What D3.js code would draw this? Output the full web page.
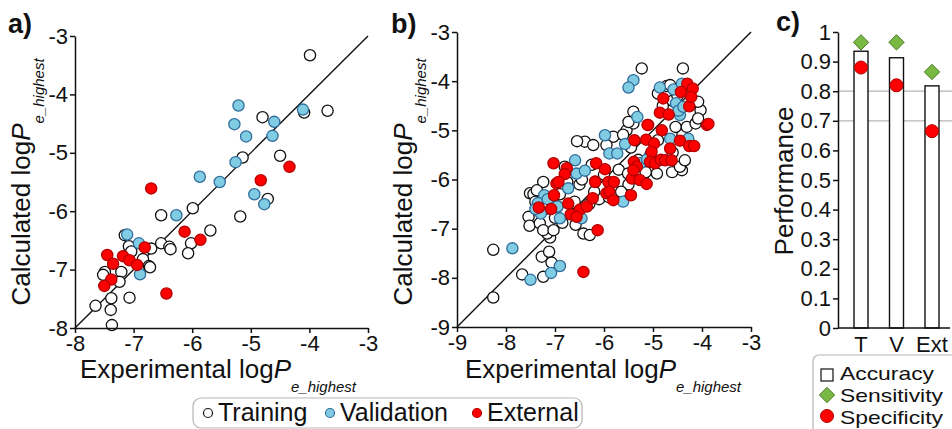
<!DOCTYPE html>
<html>
<head>
<meta charset="utf-8">
<script src="https://cdn.jsdelivr.net/npm/d3@7"></script>
<style>
  body { margin: 0; background: #fff; }
  svg { display: block; font-family: "Liberation Sans", Arial, sans-serif; }
</style>
</head>
<body>
<svg id="chart" width="952" height="429"></svg>
<script>
// ---- panel a data: [experimental, calculated]
const trainA = [
  [-3.99,-3.33],[-4.80,-4.39],[-4.09,-4.31],[-3.69,-4.28],[-5.14,-5.08],[-4.50,-5.05],[-4.71,-5.79],
  [-5.99,-5.95],[-5.18,-6.09],[-6.53,-6.07],[-5.69,-6.33],[-6.02,-6.55],[-6.07,-6.72],[-7.15,-6.41],
  [-7.08,-6.60],[-6.70,-6.64],[-6.53,-6.55],[-6.39,-6.61],[-6.37,-6.65],[-7.04,-6.69],[-6.84,-6.82],
  [-6.74,-6.94],[-6.72,-6.96],[-7.21,-7.04],[-7.49,-7.04],[-7.52,-7.09],[-7.24,-7.21],[-7.07,-7.48],
  [-7.38,-7.49],[-7.65,-7.62],[-7.39,-7.69],[-7.37,-7.95]
];
const validA = [
  [-5.21,-4.19],[-4.60,-4.47],[-5.28,-4.51],[-4.11,-4.26],[-5.08,-4.72],[-4.63,-4.71],[-5.26,-5.16],
  [-5.87,-5.41],[-5.53,-5.50],[-4.94,-5.71],[-4.77,-5.88],[-6.27,-6.07],[-7.11,-6.40],[-6.91,-6.55],
  [-6.89,-7.08]
];
const extA = [
  [-4.34,-5.24],[-4.83,-5.47],[-6.70,-5.61],[-6.13,-6.35],[-5.86,-6.49],[-6.81,-6.62],[-7.45,-6.75],
  [-7.18,-6.77],[-7.35,-6.90],[-7.07,-6.84],[-6.94,-6.92],[-7.38,-7.17],[-7.50,-7.28],[-6.44,-7.41]
];

// ---- panel b data
const trainB = [
  [-8.26,-7.43],[-8.26,-8.40],[-7.67,-7.93],[-7.24,-7.98],[-7.27,-7.57],[-7.12,-7.47],[-7.07,-7.69],
  [-7.10,-7.18],[-7.16,-7.10],[-7.54,-6.76],[-7.52,-6.94],[-7.31,-6.89],[-7.24,-7.03],[-7.03,-7.03],
  [-6.42,-7.10],[-6.29,-7.13],[-7.51,-6.28],[-7.44,-6.30],[-7.24,-6.05],[-7.37,-6.22],
  [-7.20,-6.60],[-7.00,-6.78],[-6.85,-6.88],[-6.62,-6.70],[-6.58,-6.92],[-7.40,-6.45],[-7.05,-6.45],
  [-6.90,-6.30],[-6.75,-6.05],[-6.30,-6.50],[-6.10,-6.40],[-6.00,-5.90],[-6.25,-5.70],[-6.80,-5.74],
  [-6.50,-6.10],[-6.45,-6.00],[-6.20,-6.25],[-5.90,-6.36],[-5.70,-5.80],[-5.50,-6.10],[-5.30,-5.60],
  [-5.20,-6.00],[-5.05,-5.50],[-5.51,-5.88],[-4.92,-5.88],[-4.41,-5.81],[-4.61,-5.85],[-4.45,-5.74],
  [-4.35,-5.61],[-4.60,-5.45],[-4.90,-5.20],[-4.40,-5.10],[-4.31,-4.93],[-4.54,-4.93],[-4.13,-4.86],
  [-5.54,-5.00],[-5.40,-4.86],[-5.81,-5.13],[-5.61,-5.09],[-6.39,-5.23],[-6.55,-5.22],[-6.22,-5.30],
  [-5.95,-5.30],[-5.40,-4.62],[-5.50,-4.83],[-4.80,-4.50],[-4.60,-4.40],[-4.50,-4.30],[-4.35,-4.20],
  [-4.90,-4.25],[-4.72,-4.10],[-4.65,-4.08],[-4.03,-4.59],[-4.08,-4.76],[-4.08,-4.42],
  [-5.23,-3.74],[-4.39,-3.74],[-5.45,-5.35],[-5.15,-5.85],[-5.65,-6.25],[-6.60,-6.45],[-6.95,-6.55]
];
const validB = [
  [-7.87,-7.40],[-7.50,-8.04],[-7.08,-7.90],[-6.90,-7.76],[-7.29,-6.69],[-7.22,-6.32],[-6.73,-6.18],
  [-6.46,-6.79],[-6.90,-6.79],[-5.61,-6.45],[-6.59,-5.61],[-6.56,-5.88],[-6.39,-5.82],[-5.98,-5.10],
  [-5.89,-5.47],[-5.73,-5.47],[-5.26,-5.67],[-4.65,-5.17],[-4.28,-5.17],[-5.40,-3.98],[-5.50,-4.13],
  [-4.86,-4.13],[-4.58,-4.17],[-4.41,-4.05],[-4.53,-4.45],[-4.45,-4.69],[-5.32,-4.73],[-5.57,-5.28],
  [-4.48,-4.60],[-4.38,-4.52],[-5.12,-5.59],[-7.35,-6.48],[-7.15,-6.40],[-6.95,-6.55],[-7.40,-6.60]
];
const extB = [
  [-6.42,-7.88],[-6.13,-7.03],[-7.33,-6.57],[-7.08,-6.60],[-7.02,-6.32],[-6.97,-6.08],[-6.73,-6.49],
  [-6.68,-6.71],[-6.49,-6.61],[-6.56,-6.76],[-6.35,-6.55],[-6.23,-6.38],[-6.18,-6.04],[-5.95,-6.28],
  [-7.03,-5.67],[-6.76,-5.77],[-6.80,-5.89],[-6.93,-6.05],[-6.16,-5.67],[-5.98,-5.79],[-6.18,-6.05],
  [-5.91,-6.05],[-5.80,-6.05],[-5.89,-6.25],[-5.81,-6.42],[-5.45,-6.32],[-5.38,-5.20],[-5.39,-5.64],
  [-5.43,-5.98],[-5.27,-6.01],[-5.13,-6.09],[-5.33,-5.74],[-5.14,-5.19],[-4.98,-5.27],[-5.03,-5.44],
  [-5.06,-5.64],[-4.96,-5.67],[-4.82,-5.00],[-4.65,-5.37],[-4.84,-5.60],[-4.75,-5.61],[-4.62,-5.61],
  [-4.45,-5.21],[-4.26,-5.32],[-4.16,-5.32],[-5.10,-4.89],[-3.90,-4.89],[-3.87,-4.87],[-4.30,-4.05],
  [-4.19,-4.15],[-4.43,-4.22],[-4.79,-4.35],[-4.26,-4.51],[-4.22,-4.32],[-4.86,-4.64],[-4.68,-4.68],
  [-5.11,-4.89],[-5.40,-5.81]
];

// ---- panel c data
const perfSets = ["T", "V", "Ext"];
const accuracy = [0.935, 0.913, 0.818];
const sensitivity = [0.965, 0.965, 0.865];
const specificity = [0.88, 0.82, 0.665];
const perfTicks = [0, 0.1, 0.2, 0.3, 0.4, 0.5, 0.6, 0.7, 0.8, 0.9, 1];
const perfGrid = [0.7, 0.8];

const seriesNames = ["Training", "Validation", "External"];
const styles = {
  Training:   { fill: "#ffffff", stroke: "#111" },
  Validation: { fill: "#80cde3", stroke: "#2f6c9c" },
  External:   { fill: "#ff0000", stroke: "#b40000" }
};

const svg = d3.select("#chart");

// axis title: plain text + italic P + italic subscript
function addTitle(g, main, sub) {
  const t = g.append("text").attr("font-size", 26).attr("text-anchor", "middle").attr("fill", "#111");
  t.append("tspan").text(main);
  t.append("tspan").attr("font-style", "italic").text("P");
  t.append("tspan").attr("font-size", 15).attr("font-style", "italic").attr("dy", 14).text(sub);
  return t;
}

function styleAxis(g) {
  g.selectAll(".domain").attr("stroke", "#111").attr("stroke-width", 1.5);
  g.selectAll(".tick line").attr("stroke", "#111").attr("stroke-width", 1.5);
  g.selectAll(".tick text").attr("font-size", 22).attr("fill", "#111")
    .attr("font-family", "Liberation Sans, Arial, sans-serif");
}

function scatterPanel(o) {
  const x = d3.scaleLinear().domain(o.domain).range(o.xRange);
  const y = d3.scaleLinear().domain(o.domain).range(o.yRange);
  const ticks = d3.range(o.domain[0], o.domain[1] + 1);

  // identity line
  svg.append("line")
    .attr("x1", x(o.domain[0])).attr("y1", y(o.domain[0]))
    .attr("x2", x(o.domain[1])).attr("y2", y(o.domain[1]))
    .attr("stroke", "#111").attr("stroke-width", 1.4);

  o.sets.forEach((set, i) => {
    const st = styles[seriesNames[i]];
    svg.append("g").selectAll("circle")
      .data(set)
      .enter()
      .append("circle")
      .attr("cx", d => x(d[0]))
      .attr("cy", d => y(d[1]))
      .attr("r", 5.6)
      .attr("fill", st.fill)
      .attr("stroke", st.stroke)
      .attr("stroke-width", 1.3);
  });

  const ax = svg.append("g")
    .attr("transform", `translate(0,${o.yRange[0]})`)
    .call(d3.axisBottom(x).tickValues(ticks).tickSize(5).tickSizeOuter(0).tickPadding(2).tickFormat(d => String(d)));
  styleAxis(ax);
  const ay = svg.append("g")
    .attr("transform", `translate(${o.xRange[0]},0)`)
    .call(d3.axisLeft(y).tickValues(ticks).tickSize(5).tickSizeOuter(0).tickPadding(2).tickFormat(d => String(d)));
  styleAxis(ay);

  addTitle(svg.append("g").attr("transform", `translate(${o.xTitle[0]},${o.xTitle[1]})`),
    "Experimental log", "e_highest");
  addTitle(svg.append("g").attr("transform", `translate(${o.yTitle[0]},${o.yTitle[1]}) rotate(-90)`),
    "Calculated log", "e_highest");

  svg.append("text")
    .attr("x", o.label[0]).attr("y", o.label[1])
    .attr("font-size", 27).attr("font-weight", "bold").attr("fill", "#111")
    .text(o.labelText);
}

scatterPanel({
  domain: [-8, -3], xRange: [75, 368], yRange: [328, 36],
  sets: [trainA, validA, extA],
  xTitle: [218, 378], yTitle: [30, 182],
  label: [8, 33], labelText: "a)"
});

scatterPanel({
  domain: [-9, -3], xRange: [457, 751], yRange: [327, 32],
  sets: [trainB, validB, extB],
  xTitle: [603, 378], yTitle: [412, 182],
  label: [391, 33], labelText: "b)"
});

// ---- panel c: performance bars
const px = d3.scalePoint().domain(perfSets).range([861, 932]);
const py = d3.scaleLinear().domain([0, 1]).range([328, 32]);

svg.append("g").selectAll("line")
  .data(perfGrid)
  .enter()
  .append("line")
  .attr("x1", 838).attr("x2", 952)
  .attr("y1", d => py(d)).attr("y2", d => py(d))
  .attr("stroke", "#b5b5b5").attr("stroke-width", 1.2);

svg.append("g").selectAll("rect")
  .data(perfSets)
  .enter()
  .append("rect")
  .attr("x", d => px(d) - 7)
  .attr("y", (d, i) => py(accuracy[i]))
  .attr("width", 14)
  .attr("height", (d, i) => py(0) - py(accuracy[i]))
  .attr("fill", "#fff").attr("stroke", "#111").attr("stroke-width", 1.4);

const diamond = d3.symbol().type(d3.symbolDiamond2).size(150);
svg.append("g").selectAll("path")
  .data(perfSets)
  .enter()
  .append("path")
  .attr("d", diamond)
  .attr("transform", (d, i) => `translate(${px(d)},${py(sensitivity[i])})`)
  .attr("fill", "#78b843").attr("stroke", "#4b7a28").attr("stroke-width", 1);

svg.append("g").selectAll("circle")
  .data(perfSets)
  .enter()
  .append("circle")
  .attr("cx", d => px(d))
  .attr("cy", (d, i) => py(specificity[i]))
  .attr("r", 6.5)
  .attr("fill", "#ff0000").attr("stroke", "#b40000").attr("stroke-width", 1);

const cy = svg.append("g")
  .attr("transform", "translate(838,0)")
  .call(d3.axisLeft(py).tickValues(perfTicks).tickSize(5).tickSizeOuter(0).tickPadding(2).tickFormat(d => String(d)));
styleAxis(cy);

svg.append("line")
  .attr("x1", 838).attr("x2", 950).attr("y1", 328).attr("y2", 328)
  .attr("stroke", "#111").attr("stroke-width", 1.5);

svg.append("g").selectAll("text")
  .data(perfSets)
  .enter()
  .append("text")
  .attr("x", d => px(d)).attr("y", 352)
  .attr("text-anchor", "middle").attr("font-size", 22).attr("fill", "#111")
  .text(d => d);

svg.append("text")
  .attr("transform", "translate(793,181) rotate(-90)")
  .attr("text-anchor", "middle").attr("font-size", 26).attr("fill", "#111")
  .text("Performance");

svg.append("text")
  .attr("x", 776).attr("y", 31)
  .attr("font-size", 27).attr("font-weight", "bold").attr("fill", "#111")
  .text("c)");

// ---- panel c legend (tight rows, text stretched to the reference widths)
svg.append("rect")
  .attr("x", 813).attr("y", 355).attr("width", 150).attr("height", 80).attr("rx", 6)
  .attr("fill", "#fff").attr("stroke", "#b5b5b5").attr("stroke-width", 1.2);
const perfLegend = ["Accuracy", "Sensitivity", "Specificity"];
const perfLegY = [380, 402, 424];
const perfLegW = [94, 103, 103];
svg.append("rect").attr("x", 821).attr("y", 369).attr("width", 12).attr("height", 12)
  .attr("fill", "#fff").attr("stroke", "#111").attr("stroke-width", 1.2);
svg.append("path").attr("d", diamond).attr("transform", "translate(827,395)")
  .attr("fill", "#78b843").attr("stroke", "#4b7a28");
svg.append("circle").attr("cx", 827).attr("cy", 416).attr("r", 6.5)
  .attr("fill", "#ff0000").attr("stroke", "#b40000");
svg.append("g").selectAll("text")
  .data(perfLegend)
  .enter()
  .append("text")
  .attr("x", 840).attr("y", (d, i) => perfLegY[i])
  .attr("font-size", 19).attr("fill", "#111")
  .attr("textLength", (d, i) => perfLegW[i])
  .attr("lengthAdjust", "spacingAndGlyphs")
  .text(d => d);

// ---- bottom legend
svg.append("rect")
  .attr("x", 193).attr("y", 398).attr("width", 389).attr("height", 30).attr("rx", 8)
  .attr("fill", "#fff").attr("stroke", "#b5b5b5").attr("stroke-width", 1.2);
const legX = [208, 330, 477];
seriesNames.forEach((name, i) => {
  svg.append("circle")
    .attr("cx", legX[i]).attr("cy", 413).attr("r", 4.5)
    .attr("fill", styles[name].fill).attr("stroke", styles[name].stroke).attr("stroke-width", 1.2);
  svg.append("text")
    .attr("x", legX[i] + 10).attr("y", 421)
    .attr("font-size", 25).attr("fill", "#111")
    .text(name);
});
</script>
</body>
</html>
